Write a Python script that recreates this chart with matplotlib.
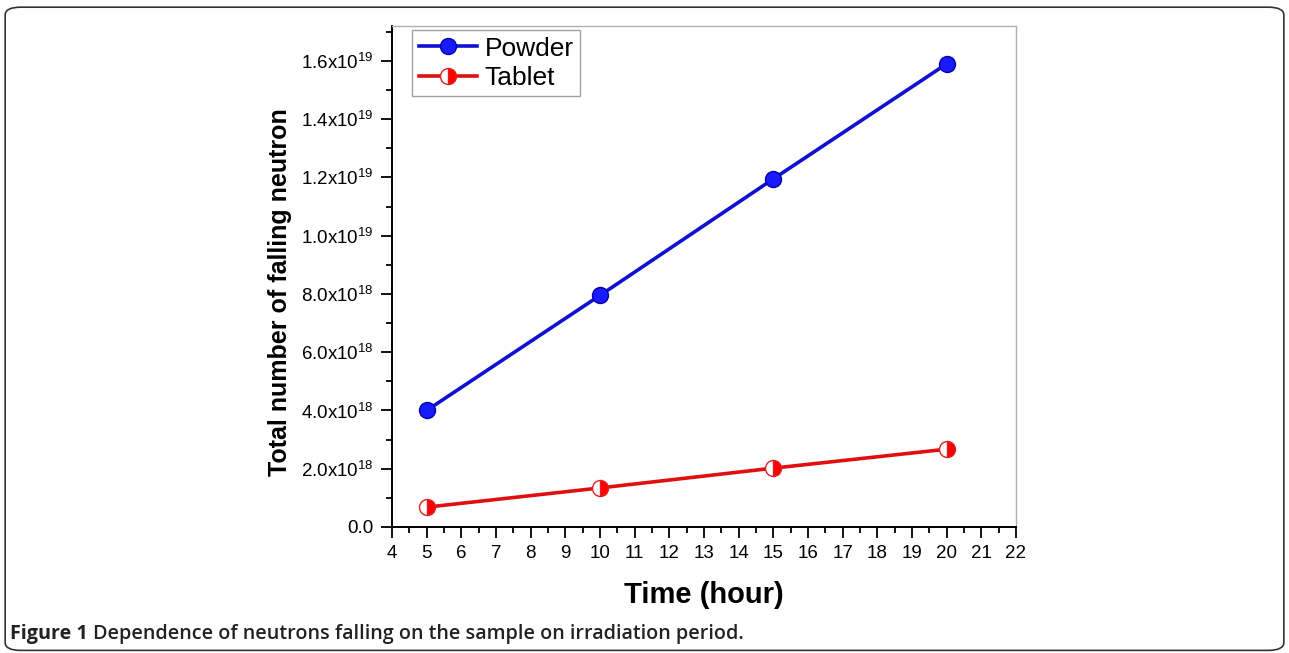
import matplotlib
matplotlib.use("Agg")
import matplotlib.pyplot as plt
from matplotlib.patches import FancyBboxPatch
from matplotlib.ticker import MultipleLocator, FuncFormatter

plt.rcParams['font.family'] = ['Liberation Sans', 'DejaVu Sans']

hours = [5, 10, 15, 20]
powder = [4.0e18, 7.95e18, 11.95e18, 15.9e18]
tablet = [0.68e18, 1.34e18, 2.02e18, 2.67e18]

fig = plt.figure(figsize=(12.89, 6.53), dpi=100)
ax = fig.add_axes([0.3041, 0.1930, 0.4841, 0.7672])

ax.plot(hours, powder, color='#1010d0', lw=2.6, marker='o', ms=11.5,
        mfc='#1a1aff', mec='#0000b0', mew=1, label='Powder')
ax.plot(hours, tablet, color='#e01010', lw=2.6, marker='o', ms=11.5,
        fillstyle='right', mfc='#ff0000', mfcalt='white', mec='#e02020',
        mew=1, label='Tablet')

ax.set_xlim(4, 22)
ax.set_ylim(0, 1.72e19)
ax.xaxis.set_major_locator(MultipleLocator(1))
ax.xaxis.set_minor_locator(MultipleLocator(0.5))
ax.yaxis.set_major_locator(MultipleLocator(2e18))
ax.yaxis.set_minor_locator(MultipleLocator(1e18))


def fmt(v, pos):
    if v == 0:
        return '0.0'
    exp = 19 if v >= 1e19 - 1 else 18
    return r'$\mathregular{%.1fx10^{%d}}$' % (v / 10 ** exp, exp)


ax.yaxis.set_major_formatter(FuncFormatter(fmt))
ax.tick_params(which='major', direction='out', length=8, width=1.3,
               labelsize=13.5, top=False, right=False, pad=5)
ax.tick_params(which='minor', direction='out', length=4.5, width=1.3,
               top=False, right=False)

for s in ['left', 'bottom']:
    ax.spines[s].set_color('black')
    ax.spines[s].set_linewidth(1.4)
for s in ['top', 'right']:
    ax.spines[s].set_color('#b0b0b0')
    ax.spines[s].set_linewidth(1.0)

ax.set_xlabel('Time (hour)', fontsize=21, fontweight='bold', labelpad=14)
ax.set_ylabel('Total number of falling neutron', fontsize=18,
              fontweight='bold')
ax.yaxis.set_label_coords(-0.16, 0.469)

leg = ax.legend(loc='upper left', bbox_to_anchor=(0.032, 0.992),
                fontsize=19, frameon=True, fancybox=False,
                handlelength=2.2, handletextpad=0.3, borderpad=0.25,
                labelspacing=0.2, borderaxespad=0)
leg.get_frame().set_edgecolor('#888888')
leg.get_frame().set_linewidth(1.0)

# outer rounded frame and caption
box = FancyBboxPatch((0.004, 0.004), 0.992, 0.985,
                     boxstyle='round,pad=0,rounding_size=0.012',
                     transform=fig.transFigure, fill=False,
                     edgecolor='#333333', lw=1.2)
fig.patches.append(box)

fig.text(0.008, 0.022, 'Figure 1', fontsize=14.2, fontweight='bold',
         family=['Open Sans', 'DejaVu Sans'], color='#222222')
fig.text(0.072, 0.022, 'Dependence of neutrons falling on the sample on irradiation period.',
         fontsize=14.2, fontweight='semibold', family=['Open Sans', 'DejaVu Sans'],
         color='#222222')

fig.savefig('out.png', dpi=100)
